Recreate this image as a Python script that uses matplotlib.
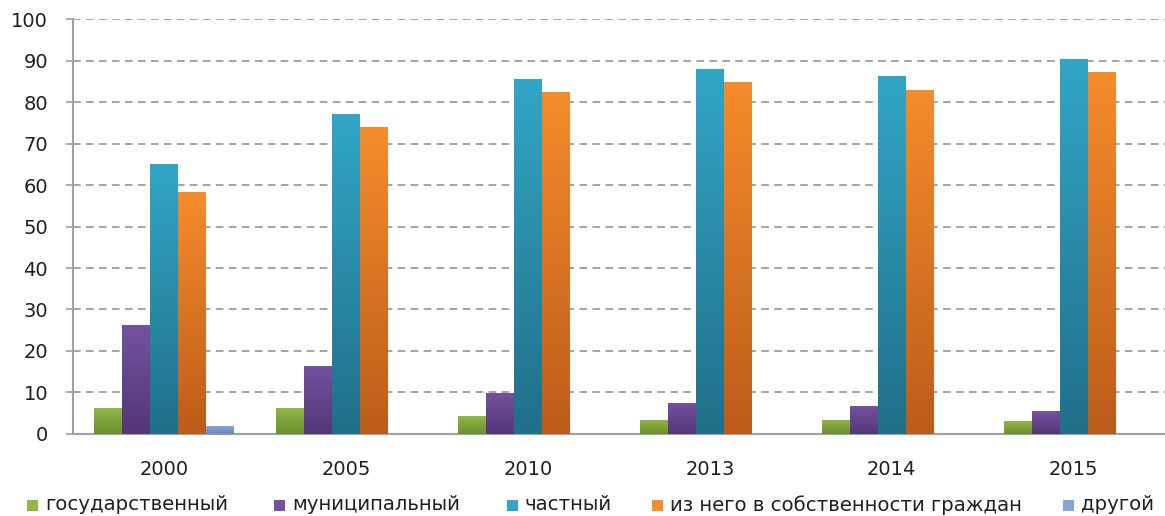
import numpy as np
import matplotlib
matplotlib.use("Agg")
import matplotlib.pyplot as plt
from matplotlib.patches import Rectangle
from matplotlib.colors import LinearSegmentedColormap

years = ["2000", "2005", "2010", "2013", "2014", "2015"]
series_names = ["государственный", "муниципальный", "частный",
                "из него в собственности граждан", "другой"]
state = [6.3, 6.3, 4.3, 3.4, 3.4, 3.1]
municipal = [26.3, 16.4, 9.9, 7.5, 6.7, 5.5]
private = [65.0, 77.1, 85.5, 88.0, 86.3, 90.4]
citizens = [58.3, 74.0, 82.4, 84.8, 82.9, 87.2]
other = [1.9, 0, 0, 0, 0, 0]
series_values = [state, municipal, private, citizens, other]

# (top colour, bottom colour) for the vertical gradient of each series
gradients = [("#93B84A", "#6C8E2E"),
             ("#7452A0", "#533777"),
             ("#32A6C6", "#216F89"),
             ("#F58C2C", "#BC5C1A"),
             ("#86A4D4", "#6C88BC")]

TEXT = "#1E1E28"
W, H = 1165, 516

fig = plt.figure(figsize=(W / 100, H / 100), dpi=100)
ax = fig.add_axes([0.0627, 0.159, 0.937, 0.804])

x = np.arange(len(years))
width = 0.153
offsets = (np.arange(len(series_names)) - 2) * width

for vals, off, (top, bot), name in zip(series_values, offsets, gradients, series_names):
    bars = ax.bar(x + off, vals, width, color=top, edgecolor="none", label=name, zorder=3)
    cmap = LinearSegmentedColormap.from_list("g", [bot, top])
    grad = np.linspace(0, 1, 256).reshape(-1, 1)
    for b in bars:
        h = b.get_height()
        if h <= 0:
            continue
        bx, by = b.get_x(), b.get_y()
        im = ax.imshow(grad, cmap=cmap, aspect="auto", origin="lower",
                       extent=[bx, bx + b.get_width(), by, by + h], zorder=4,
                       interpolation="bilinear")
        im.set_clip_path(b)

ax.set_xlim(-0.5, len(years) - 0.5)
ax.set_ylim(0, 100)
ax.set_yticks(np.arange(0, 101, 10))
ax.set_xticks(x)
ax.set_xticklabels(years)

ax.yaxis.grid(True, linestyle=(0, (5, 3.5)), color="#8C8C8C", linewidth=1.1, zorder=0)
ax.set_axisbelow(True)

for s in ["top", "right"]:
    ax.spines[s].set_visible(False)
ax.spines["left"].set_color("#A0A0A0")
ax.spines["bottom"].set_color("#A0A0A0")
ax.spines["left"].set_linewidth(1.5)
ax.spines["bottom"].set_linewidth(1.5)

ax.tick_params(axis="y", length=5, color="#A0A0A0", width=1.2, pad=13,
               labelsize=14, labelcolor=TEXT)
ax.tick_params(axis="x", length=0, pad=19, labelsize=14, labelcolor=TEXT)

# Legend row along the bottom: a small square swatch followed by the series name
legend_x = [27, 274, 507, 652, 1063]
legend_y = 505
sq = 11
for px, name, (top, _) in zip(legend_x, series_names, gradients):
    fig.patches.append(Rectangle((px / W, (H - legend_y - sq / 2) / H), sq / W, sq / H,
                                 transform=fig.transFigure, facecolor=top,
                                 edgecolor="none"))
    fig.text((px + sq + 7) / W, (H - legend_y) / H, name, fontsize=14.2,
             color=TEXT, va="center", ha="left")

fig.savefig("out.png", dpi=100)
